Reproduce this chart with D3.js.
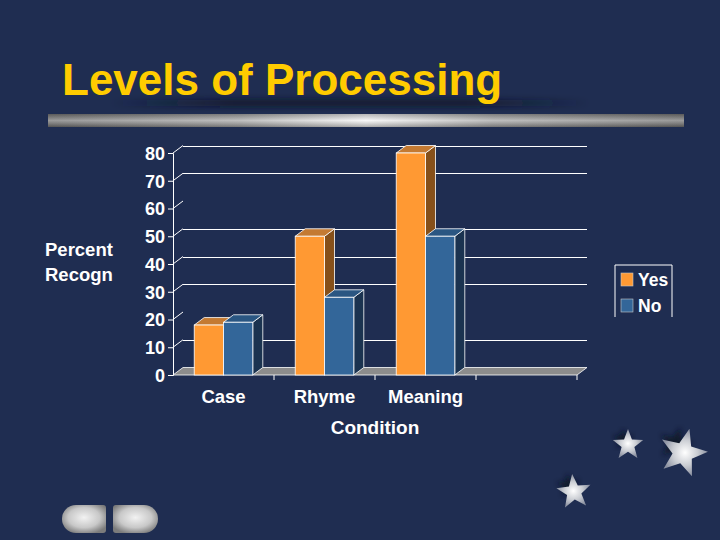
<!DOCTYPE html>
<html>
<head>
<meta charset="utf-8">
<script src="https://cdn.jsdelivr.net/npm/d3@7"></script>
<style>
  html, body { margin: 0; padding: 0; background: #1f2d51; }
  svg { display: block; }
  text { font-family: "Liberation Sans", Arial, sans-serif; font-weight: bold; }
</style>
</head>
<body>
<div id="chart"></div>
<script>
// chart data
const categories = ["Case", "Rhyme", "Meaning", ""];
const seriesNames = ["Yes", "No"];
const yesValues = [18, 50, 80];
const noValues = [19, 28, 50];
const yTicks = [0, 10, 20, 30, 40, 50, 60, 70, 80];
const gridTicks = [10, 30, 40, 50, 70, 80];   // 20 and 60 lines are not visible in the original

const width = 720, height = 540;
const colors = {
  Yes: {front: "#ff9933", top: "#c47a32", side: "#86501a"},
  No:  {front: "#336699", top: "#2a5682", side: "#1b3350"}
};
const depthX = 10, depthY = -7.5;

var svg = d3.select("#chart")
  .append("svg")
    .attr("width", width)
    .attr("height", height);

var defs = svg.append("defs");

// background
svg.append("rect")
  .attr("width", width).attr("height", height)
  .attr("fill", "#1f2d51");

// ---- title area ----
var blur = defs.append("filter").attr("id", "blur").attr("x", "-20%").attr("y", "-200%")
  .attr("width", "140%").attr("height", "500%");
blur.append("feGaussianBlur").attr("stdDeviation", 3);

var shadowGrad = defs.append("linearGradient").attr("id", "shadowGrad");
shadowGrad.append("stop").attr("offset", "0%").attr("stop-color", "#0d1426").attr("stop-opacity", 0);
shadowGrad.append("stop").attr("offset", "25%").attr("stop-color", "#0d1426").attr("stop-opacity", 0.9);
shadowGrad.append("stop").attr("offset", "75%").attr("stop-color", "#0d1426").attr("stop-opacity", 0.9);
shadowGrad.append("stop").attr("offset", "100%").attr("stop-color", "#0d1426").attr("stop-opacity", 0);

svg.append("rect")
  .attr("x", 110).attr("y", 100).attr("width", 480).attr("height", 6)
  .attr("fill", "url(#shadowGrad)")
  .attr("filter", "url(#blur)");

svg.append("text")
  .attr("x", 62).attr("y", 95)
  .attr("font-size", 44)
  .attr("fill", "#ffcc00")
  .text("Levels of Processing");

var barGrad = defs.append("linearGradient").attr("id", "barGrad");
[["0%", "#777"], ["30%", "#a8a8a8"], ["50%", "#f4f4f4"], ["70%", "#a8a8a8"], ["100%", "#777"]]
  .forEach(function(s) { barGrad.append("stop").attr("offset", s[0]).attr("stop-color", s[1]); });
var barShine = defs.append("linearGradient").attr("id", "barShine")
  .attr("x1", 0).attr("y1", 0).attr("x2", 0).attr("y2", 1);
barShine.append("stop").attr("offset", "0%").attr("stop-color", "#000").attr("stop-opacity", 0.25);
barShine.append("stop").attr("offset", "50%").attr("stop-color", "#fff").attr("stop-opacity", 0.25);
barShine.append("stop").attr("offset", "100%").attr("stop-color", "#000").attr("stop-opacity", 0.3);

svg.append("rect").attr("x", 48).attr("y", 114).attr("width", 636).attr("height", 13)
  .attr("fill", "url(#barGrad)");
svg.append("rect").attr("x", 48).attr("y", 114).attr("width", 636).attr("height", 13)
  .attr("fill", "url(#barShine)");

// ---- chart ----
var x = d3.scaleBand()
  .domain(categories)
  .range([173, 577]);

var xs = d3.scaleBand()
  .domain(seriesNames)
  .range([x.bandwidth() * 0.21, x.bandwidth() * 0.79]);

var y = d3.scaleLinear()
  .domain([0, 80])
  .range([375, 153]);

var chart = svg.append("g");
var x0 = x.range()[0], x1 = x.range()[1];

// back wall grid lines
chart.selectAll(".grid")
  .data(gridTicks)
  .enter()
  .append("line")
    .attr("x1", x0 + depthX).attr("x2", x1 + depthX)
    .attr("y1", function(d) { return Math.round(y(d) + depthY) + 0.5; })
    .attr("y2", function(d) { return Math.round(y(d) + depthY) + 0.5; })
    .attr("stroke", "#ffffff")
    .attr("stroke-width", 1);

// little diagonal connectors from the axis to the wall
chart.selectAll(".diag")
  .data(yTicks.filter(function(d) { return d > 0; }))
  .enter()
  .append("line")
    .attr("x1", x0).attr("x2", x0 + depthX)
    .attr("y1", function(d) { return y(d); })
    .attr("y2", function(d) { return y(d) + depthY; })
    .attr("stroke", "#ffffff");

// floor
chart.append("path")
  .attr("d", "M" + x0 + "," + y(0) + "L" + x1 + "," + y(0) +
             "L" + (x1 + depthX) + "," + (y(0) + depthY) +
             "L" + (x0 + depthX) + "," + (y(0) + depthY) + "Z")
  .attr("fill", "#8c8c8c")
  .attr("stroke", "#ffffff")
  .attr("stroke-width", 0.8);

// bars
var barData = [];
categories.slice(0, 3).forEach(function(c, i) {
  barData.push({cat: c, s: "Yes", v: yesValues[i]});
  barData.push({cat: c, s: "No", v: noValues[i]});
});

var bars = chart.selectAll(".bar")
  .data(barData)
  .enter()
  .append("g");

bars.each(function(d) {
  var g = d3.select(this);
  var bx = x(d.cat) + xs(d.s), bw = xs.bandwidth();
  var top = y(d.v), base = y(0);
  // side face
  g.append("path")
    .attr("d", "M" + (bx + bw) + "," + base + "L" + (bx + bw) + "," + top +
               "L" + (bx + bw + depthX) + "," + (top + depthY) +
               "L" + (bx + bw + depthX) + "," + (base + depthY) + "Z")
    .attr("fill", colors[d.s].side)
    .attr("stroke", "#ffffff").attr("stroke-width", 0.8);
  // top face
  g.append("path")
    .attr("d", "M" + bx + "," + top + "L" + (bx + bw) + "," + top +
               "L" + (bx + bw + depthX) + "," + (top + depthY) +
               "L" + (bx + depthX) + "," + (top + depthY) + "Z")
    .attr("fill", colors[d.s].top)
    .attr("stroke", "#ffffff").attr("stroke-width", 0.8);
  // front face
  g.append("rect")
    .attr("x", bx).attr("y", top)
    .attr("width", bw).attr("height", base - top)
    .attr("fill", colors[d.s].front)
    .attr("stroke", "#ffffff").attr("stroke-width", 0.8);
});

// y axis
var yAxis = chart.append("g")
  .attr("transform", "translate(" + x0 + ",0)")
  .call(d3.axisLeft(y).tickValues(yTicks).tickSize(5).tickPadding(3));
yAxis.select(".domain").attr("stroke", "#ffffff");
yAxis.selectAll("line").attr("stroke", "#ffffff");
yAxis.selectAll("text")
  .attr("fill", "#ffffff")
  .attr("font-size", 18)
  .attr("font-family", "Liberation Sans, Arial, sans-serif")
  .attr("font-weight", "bold")
  .attr("dy", "0.36em");

// x axis ticks and labels
var xAxis = chart.append("g")
  .attr("transform", "translate(0," + y(0) + ")")
  .call(d3.axisBottom(x).tickSize(0).tickPadding(15));
xAxis.select(".domain").remove();
xAxis.selectAll("text")
  .attr("fill", "#ffffff")
  .attr("font-size", 18.5)
  .attr("font-family", "Liberation Sans, Arial, sans-serif")
  .attr("font-weight", "bold")
  .attr("dy", "0.71em");

chart.selectAll(".xtick")
  .data(categories.map(function(c) { return x(c) + x.bandwidth(); }))
  .enter()
  .append("line")
    .attr("x1", function(d) { return d; }).attr("x2", function(d) { return d; })
    .attr("y1", y(0)).attr("y2", y(0) + 5)
    .attr("stroke", "#ffffff");

// axis titles
svg.append("text").attr("x", 45).attr("y", 256).attr("font-size", 18.5)
  .attr("fill", "#ffffff").text("Percent");
svg.append("text").attr("x", 45).attr("y", 281).attr("font-size", 18.5)
  .attr("fill", "#ffffff").text("Recogn");
svg.append("text").attr("x", 375).attr("y", 434).attr("font-size", 19)
  .attr("text-anchor", "middle").attr("fill", "#ffffff").text("Condition");

// legend
var legend = svg.append("g").attr("transform", "translate(615,265)");
legend.append("path")
  .attr("d", "M0,52V0H57V52")
  .attr("fill", "none")
  .attr("stroke", "#ffffff");
var li = legend.selectAll(".li")
  .data(seriesNames)
  .enter()
  .append("g")
    .attr("transform", function(d, i) { return "translate(6," + (8 + i * 26) + ")"; });
li.append("rect")
  .attr("width", 12).attr("height", 13)
  .attr("fill", function(d) { return colors[d].front; })
  .attr("stroke", "#c8c8c8").attr("stroke-width", 0.6);
li.append("text")
  .attr("x", 17).attr("y", 13)
  .attr("font-size", 17.5)
  .attr("fill", "#ffffff")
  .text(function(d) { return d; });

// ---- decorations: stars ----
var starGrad = defs.append("radialGradient").attr("id", "starGrad");
starGrad.append("stop").attr("offset", "0%").attr("stop-color", "#ffffff");
starGrad.append("stop").attr("offset", "55%").attr("stop-color", "#c9ccd2");
starGrad.append("stop").attr("offset", "100%").attr("stop-color", "#8a90a0");

var starBlur = defs.append("filter").attr("id", "starBlur");
starBlur.append("feGaussianBlur").attr("stdDeviation", 2.5);

function starPath(r, rot) {
  var pts = [];
  for (var i = 0; i < 10; i++) {
    var rr = i % 2 === 0 ? r : r * 0.42;
    var a = (rot - 90 + i * 36) * Math.PI / 180;
    pts.push([rr * Math.cos(a), rr * Math.sin(a)]);
  }
  return "M" + pts.map(function(p) { return p[0].toFixed(2) + "," + p[1].toFixed(2); }).join("L") + "Z";
}

var stars = [
  {cx: 628, cy: 445, r: 16, rot: 0},
  {cx: 683, cy: 453, r: 25, rot: 15},
  {cx: 574, cy: 492, r: 18, rot: -6}
];
var sg = svg.selectAll(".star")
  .data(stars)
  .enter()
  .append("g")
    .attr("transform", function(d) { return "translate(" + d.cx + "," + d.cy + ")"; });
sg.append("path")
  .attr("d", function(d) { return starPath(d.r * 0.7, d.rot); })
  .attr("transform", function(d) { return "translate(" + (-d.r * 0.3) + "," + (-d.r * 0.35) + ")"; })
  .attr("fill", "#0c1222")
  .attr("opacity", 0.8)
  .attr("filter", "url(#starBlur)");
sg.append("path")
  .attr("d", function(d) { return starPath(d.r, d.rot); })
  .attr("fill", "url(#starGrad)");

// ---- decorations: nav buttons ----
var btnGrad = defs.append("radialGradient").attr("id", "btnGrad")
  .attr("cx", "50%").attr("cy", "45%").attr("r", "60%");
btnGrad.append("stop").attr("offset", "0%").attr("stop-color", "#f2f2f2");
btnGrad.append("stop").attr("offset", "60%").attr("stop-color", "#c8c8c8");
btnGrad.append("stop").attr("offset", "100%").attr("stop-color", "#7c7c7c");

svg.append("path")
  .attr("d", "M76,505H103Q106,505 106,508V530Q106,533 103,533H76A14,14 0 0 1 76,505Z")
  .attr("fill", "url(#btnGrad)");
svg.append("path")
  .attr("d", "M116,505H144A14,14 0 0 1 144,533H116Q113,533 113,530V508Q113,505 116,505Z")
  .attr("fill", "url(#btnGrad)");
</script>
</body>
</html>
